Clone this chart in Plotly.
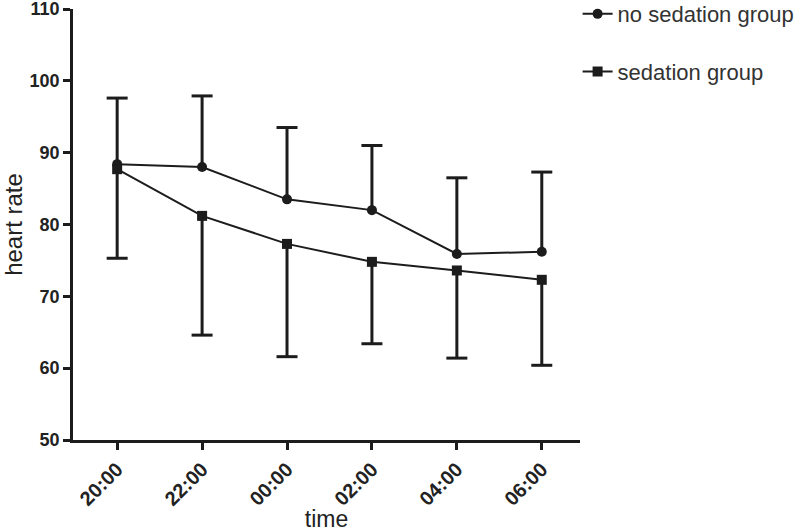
import plotly.graph_objects as go

times = ["20:00", "22:00", "00:00", "02:00", "04:00", "06:00"]
no_sed_mean = [88.4, 88.0, 83.5, 82.0, 75.9, 76.2]
no_sed_upper = [97.6, 97.9, 93.5, 91.0, 86.5, 87.3]
sed_mean = [87.7, 81.2, 77.3, 74.8, 73.6, 72.3]
sed_lower = [75.3, 64.6, 61.6, 63.4, 61.4, 60.4]

INK = "#1c1c1c"
FONT = "Liberation Sans"

fig = go.Figure()

def add_err(means, ends):
    xs, ys = [], []
    for t, m, e in zip(times, means, ends):
        xs += [t, t, None]
        ys += [m, e, None]
    fig.add_trace(go.Scatter(x=xs, y=ys, mode="lines", line=dict(color=INK, width=3),
                             showlegend=False, hoverinfo="skip"))
    fig.add_trace(go.Scatter(x=times, y=ends, mode="markers",
                             marker=dict(symbol="line-ew", size=15, line=dict(color=INK, width=3)),
                             showlegend=False, hoverinfo="skip"))

add_err(no_sed_mean, no_sed_upper)
add_err(sed_mean, sed_lower)

fig.add_trace(go.Scatter(x=times, y=no_sed_mean, mode="lines+markers", name="no sedation group",
                         legendgroup="a",
                         line=dict(color=INK, width=2), marker=dict(symbol="circle", size=10, color=INK)))
fig.add_trace(go.Scatter(x=times, y=sed_mean, mode="lines+markers", name="sedation group",
                         legendgroup="b",
                         line=dict(color=INK, width=2), marker=dict(symbol="square", size=10, color=INK)))

fig.update_layout(
    width=800, height=532,
    paper_bgcolor="white", plot_bgcolor="white",
    margin=dict(l=73, r=220, t=9, b=92, autoexpand=False),
    font=dict(family=FONT, color="#222"),
    legend=dict(xref="container", yref="paper", x=0.722, y=1.037, xanchor="left", yanchor="top",
                font=dict(size=22, family=FONT, color="#333"),
                tracegroupgap=26, bgcolor="rgba(0,0,0,0)"),
    xaxis=dict(type="category", categoryorder="array", categoryarray=times,
               range=[-0.52, 5.45], showgrid=False, zeroline=False, automargin=False,
               showline=True, linecolor=INK, linewidth=2.5,
               ticks="outside", ticklen=7, tickwidth=2.5, tickcolor=INK,
               tickangle=-45, ticklabeloverflow="allow",
               tickfont=dict(size=20, family=FONT, weight="bold", color="#222"),
               title=dict(text="time", font=dict(size=23, family=FONT, color="#222"),
                          standoff=4)),
    yaxis=dict(range=[50, 110], tickvals=[50, 60, 70, 80, 90, 100, 110],
               showgrid=False, zeroline=False, automargin=False,
               showline=True, linecolor=INK, linewidth=2.5,
               ticks="outside", ticklen=7, tickwidth=2.5, tickcolor=INK,
               ticklabeloverflow="allow",
               tickfont=dict(size=18, family=FONT, weight="bold", color="#222"),
               title=dict(text="heart rate", font=dict(size=24, family=FONT, color="#222"),
                          standoff=11)),
)

fig.write_html("out.html", config={"displayModeBar": False},
               post_script="document.body.style.margin='0';document.body.style.padding='0';")
